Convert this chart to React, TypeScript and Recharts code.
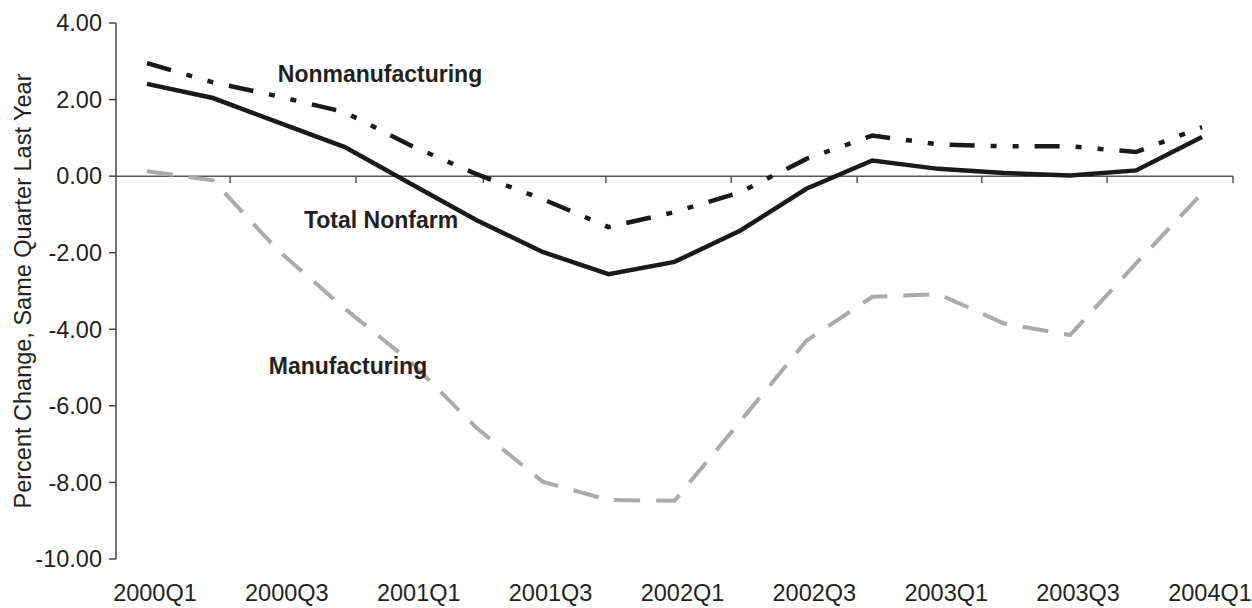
import { LineChart, Line, XAxis, YAxis, ReferenceLine } from 'recharts';

const quarters = [
  '2000Q1', '2000Q2', '2000Q3', '2000Q4',
  '2001Q1', '2001Q2', '2001Q3', '2001Q4',
  '2002Q1', '2002Q2', '2002Q3', '2002Q4',
  '2003Q1', '2003Q2', '2003Q3', '2003Q4',
  '2004Q1',
];

const totalNonfarm = [2.41, 2.04, 1.4, 0.76, -0.2, -1.15, -1.98, -2.56, -2.24, -1.42, -0.33, 0.41, 0.19, 0.08, 0.02, 0.15, 1.02];
const nonmanufacturing = [2.95, 2.45, 2.08, 1.67, 0.8, 0.05, -0.6, -1.33, -0.94, -0.42, 0.45, 1.06, 0.83, 0.78, 0.78, 0.63, 1.28];
const manufacturing = [0.13, -0.11, -1.96, -3.46, -4.85, -6.58, -7.98, -8.46, -8.48, -6.4, -4.3, -3.15, -3.08, -3.85, -4.15, -2.28, -0.45];

const yTicks = [-10, -8, -6, -4, -2, 0, 2, 4];
const xLabelIdx = [0, 2, 4, 6, 8, 10, 12, 14, 16];
// tick marks on the zero line sit a bit off the labels in the original
const zeroTickIdx = [1.26, 3.17, 5.1, 6.96, 8.86, 10.77, 12.66, 14.56, 16.47];

const data = quarters.map((q, i) => ({
  idx: i,
  q,
  total: totalNonfarm[i],
  nonmfg: nonmanufacturing[i],
  mfg: manufacturing[i],
}));

const FONT = '"Liberation Sans", Arial, Helvetica, sans-serif';
const INK = '#231f20';

const YLabel = () => (
  <text
    x={23}
    y={291}
    transform="rotate(-90, 23, 291)"
    textAnchor="middle"
    dominantBaseline="central"
    fontSize={23.5}
    fontFamily={FONT}
    fill={INK}
  >
    Percent Change, Same Quarter Last Year
  </text>
);

export default function App() {
  return (
    <div style={{ position: 'absolute', left: 0, top: 0, width: 1252, height: 608, background: '#fff' }}>
      <LineChart
        width={1252}
        height={608}
        data={data}
        margin={{ top: 23, right: 19, bottom: 0, left: 0 }}
        style={{ fontFamily: FONT }}
      >
        <XAxis
          dataKey="idx"
          type="number"
          domain={[-0.47, 16.47]}
          ticks={xLabelIdx}
          tickFormatter={(v: number) => quarters[v]}
          axisLine={false}
          tickLine={false}
          tickSize={0}
          tickMargin={25}
          height={49}
          interval={0}
          tick={{ fontSize: 23.5, fill: INK, dx: 8 }}
        />
        <YAxis
          type="number"
          domain={[-10, 4]}
          ticks={yTicks}
          width={116}
          tickFormatter={(v: number) => v.toFixed(2)}
          axisLine={{ stroke: '#444', strokeWidth: 1.5 }}
          tickLine={{ stroke: '#444', strokeWidth: 1.5 }}
          tickSize={7}
          tickMargin={7}
          tick={{ fontSize: 23.5, fill: INK }}
          label={<YLabel />}
        />
        <ReferenceLine y={0} stroke="#555" strokeWidth={1.5} />
        {zeroTickIdx.map((t) => (
          <ReferenceLine
            key={t}
            segment={[{ x: t, y: 0 }, { x: t, y: -0.18 }]}
            stroke="#555"
            strokeWidth={1.5}
          />
        ))}
        <Line
          type="linear"
          dataKey="mfg"
          stroke="#aaaaaa"
          strokeWidth={4}
          strokeDasharray="26 16"
          dot={false}
          isAnimationActive={false}
        />
        <Line
          type="linear"
          dataKey="nonmfg"
          stroke="#1a1a1a"
          strokeWidth={4.5}
          strokeDasharray="25 16 6 16 6 16"
          dot={false}
          isAnimationActive={false}
        />
        <Line
          type="linear"
          dataKey="total"
          stroke="#1a1a1a"
          strokeWidth={4.5}
          dot={false}
          isAnimationActive={false}
        />
      </LineChart>
      <svg
        width={1252}
        height={608}
        style={{ position: 'absolute', left: 0, top: 0, pointerEvents: 'none' }}
      >
        <g fontFamily={FONT} fontWeight="bold" fontSize={23} fill={INK} textAnchor="middle" dominantBaseline="central">
          <text x={380} y={74}>Nonmanufacturing</text>
          <text x={381} y={220}>Total Nonfarm</text>
          <text x={348} y={366}>Manufacturing</text>
        </g>
      </svg>
    </div>
  );
}
